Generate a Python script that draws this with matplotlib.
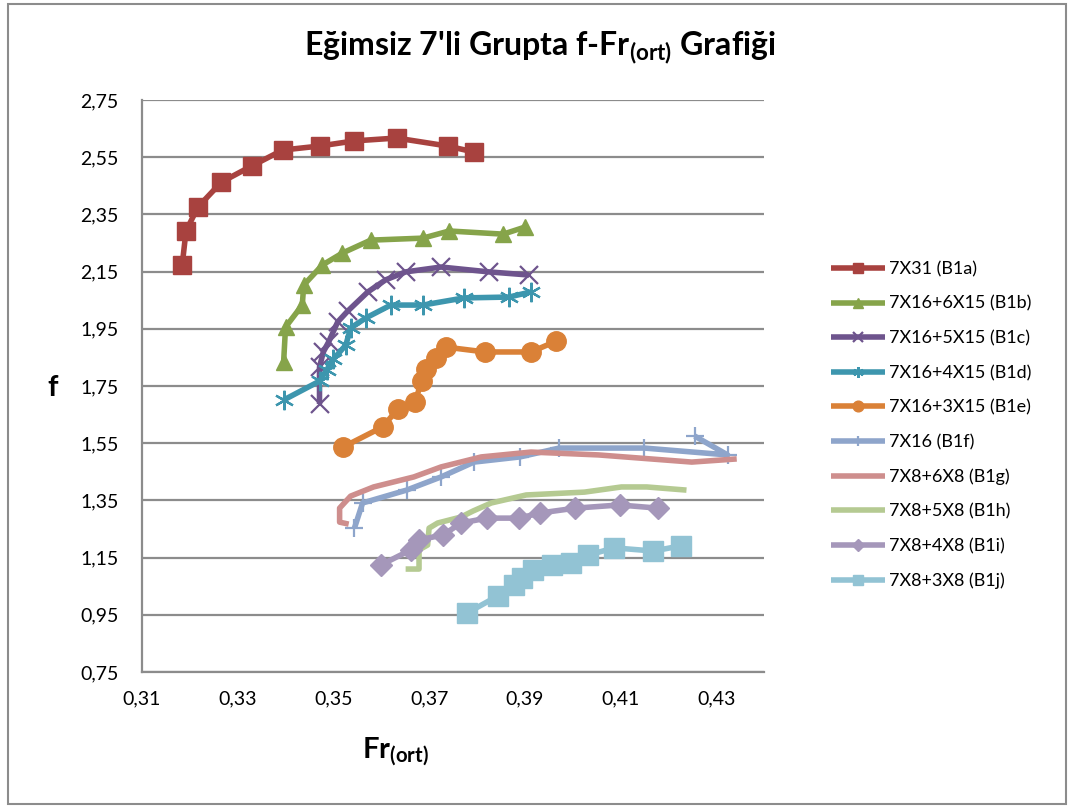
import matplotlib
matplotlib.use("Agg")
import matplotlib.pyplot as plt
from matplotlib.patches import Rectangle
from matplotlib.ticker import FixedLocator, FuncFormatter

plt.rcParams['font.family'] = ['Lato', 'DejaVu Sans']
plt.rcParams['mathtext.fontset'] = 'custom'
plt.rcParams['mathtext.bf'] = 'Lato:bold'

# ---------------- data ----------------
labels = ['7X31 (B1a)', '7X16+6X15 (B1b)', '7X16+5X15 (B1c)', '7X16+4X15 (B1d)',
          '7X16+3X15 (B1e)', '7X16 (B1f)', '7X8+6X8 (B1g)', '7X8+5X8 (B1h)',
          '7X8+4X8 (B1i)', '7X8+3X8 (B1j)']

b1a_x = [0.3184, 0.3192, 0.3217, 0.3266, 0.3329, 0.3394, 0.3471, 0.3544, 0.3632, 0.3739, 0.3794]
b1a_y = [2.173, 2.292, 2.376, 2.463, 2.519, 2.575, 2.589, 2.607, 2.617, 2.589, 2.568]

b1b_x = [0.3396, 0.3400, 0.3435, 0.3438, 0.3477, 0.3519, 0.3578, 0.3687, 0.3742, 0.3855, 0.3901]
b1b_y = [1.834, 1.956, 2.033, 2.103, 2.173, 2.215, 2.260, 2.267, 2.292, 2.281, 2.306]

b1c_x = [0.3471, 0.3471, 0.3479, 0.3490, 0.3509, 0.3530, 0.3572, 0.3609, 0.3651, 0.3725, 0.3825, 0.3909]
b1c_y = [1.687, 1.816, 1.869, 1.904, 1.974, 2.012, 2.079, 2.121, 2.149, 2.166, 2.149, 2.138]

b1d_x = [0.3396, 0.3471, 0.3486, 0.3500, 0.3526, 0.3536, 0.3568, 0.3620, 0.3687, 0.3773, 0.3867, 0.3913]
b1d_y = [1.701, 1.767, 1.806, 1.844, 1.893, 1.953, 1.988, 2.033, 2.033, 2.058, 2.061, 2.079]

b1e_x = [0.3521, 0.3603, 0.3635, 0.3670, 0.3685, 0.3693, 0.3714, 0.3735, 0.3817, 0.3913, 0.3966]
b1e_y = [1.537, 1.607, 1.670, 1.694, 1.767, 1.809, 1.848, 1.886, 1.869, 1.869, 1.907]

b1f_x = [0.3544, 0.3561, 0.3653, 0.3725, 0.3794, 0.3890, 0.3972, 0.4150, 0.4324, 0.4255]
b1f_y = [1.253, 1.341, 1.386, 1.432, 1.484, 1.502, 1.533, 1.533, 1.509, 1.575]

b1g_x = [0.3532, 0.3513, 0.3513, 0.3536, 0.3584, 0.3668, 0.3725, 0.3809, 0.3913, 0.4054, 0.4249, 0.4343]
b1g_y = [1.267, 1.274, 1.323, 1.365, 1.397, 1.432, 1.467, 1.502, 1.519, 1.509, 1.484, 1.495]

b1h_x = [0.3651, 0.3679, 0.3679, 0.3697, 0.3700, 0.3718, 0.3767, 0.3792, 0.3830, 0.3903, 0.4025, 0.4102, 0.4155, 0.4238]
b1h_y = [1.110, 1.110, 1.177, 1.194, 1.253, 1.271, 1.292, 1.313, 1.341, 1.369, 1.379, 1.397, 1.397, 1.386]

b1i_x = [0.3599, 0.3662, 0.3679, 0.3729, 0.3767, 0.3821, 0.3888, 0.3932, 0.4006, 0.4098, 0.4178]
b1i_y = [1.124, 1.177, 1.212, 1.229, 1.271, 1.288, 1.288, 1.306, 1.323, 1.334, 1.323]

b1j_x = [0.3779, 0.3844, 0.3878, 0.3895, 0.3918, 0.3957, 0.3997, 0.4033, 0.4087, 0.4169, 0.4226]
b1j_y = [0.956, 1.016, 1.054, 1.079, 1.107, 1.124, 1.131, 1.159, 1.184, 1.173, 1.191]

y_ticks = [0.75, 0.95, 1.15, 1.35, 1.55, 1.75, 1.95, 2.15, 2.35, 2.55, 2.75]
x_ticks = [0.31, 0.33, 0.35, 0.37, 0.39, 0.41, 0.43]

series = [(b1a_x, b1a_y), (b1b_x, b1b_y), (b1c_x, b1c_y), (b1d_x, b1d_y), (b1e_x, b1e_y),
          (b1f_x, b1f_y), (b1g_x, b1g_y), (b1h_x, b1h_y), (b1i_x, b1i_y), (b1j_x, b1j_y)]

# ---------------- styles ----------------
colors = ['#A8423F', '#86A44A', '#6E548D', '#3D96AE', '#DA8137',
          '#8EA5CB', '#CE8E8D', '#B5CA92', '#A597BA', '#92C3D4']
markers = ['s', '^', 'x', (6, 2, 0), 'o', '+', None, None, 'D', 's']
msizes = [13, 12, 13, 14, 14, 13, 0, 0, 11, 14]
line_marks = ('x', '+')

fig = plt.figure(figsize=(10.73, 8.07), dpi=100)
ax = fig.add_axes([142 / 1073, 1 - 672 / 807, (764 - 142) / 1073, (672 - 100) / 807])

for (xs, ys), lab, c, m, ms in zip(series, labels, colors, markers, msizes):
    kw = dict(color=c, lw=4.0, label=lab, solid_joinstyle='round', solid_capstyle='butt')
    if m is not None:
        kw.update(marker=m, markersize=ms, markeredgecolor=c, markerfacecolor=c)
        if m in line_marks or isinstance(m, tuple):
            kw.update(markeredgewidth=1.6)
    ax.plot(xs, ys, **kw)

ax.set_xlim(0.31, 0.44)
ax.set_ylim(0.75, 2.75)
ax.xaxis.set_major_locator(FixedLocator(x_ticks))
ax.yaxis.set_major_locator(FixedLocator(y_ticks))
comma = FuncFormatter(lambda v, p: ('%.2f' % v).replace('.', ','))
ax.xaxis.set_major_formatter(comma)
ax.yaxis.set_major_formatter(comma)
ax.tick_params(length=0, labelsize=14, colors='#000000')
ax.tick_params(axis='x', pad=13)
ax.tick_params(axis='y', pad=17)
ax.grid(axis='y', color='#8C8C8C', lw=1.6)
ax.set_axisbelow(True)
for s in ('top', 'right'):
    ax.spines[s].set_visible(False)
for s in ('left', 'bottom'):
    ax.spines[s].set_color('#8C8C8C')
    ax.spines[s].set_linewidth(1.6)

fig.text(53 / 1073, 1 - 388 / 807, 'f', fontsize=21, fontweight='bold', ha='center', va='center')
fig.text(395 / 1073, 1 - 752 / 807, r'Fr$_{\mathbf{(ort)}}$', fontsize=21, fontweight='bold',
         ha='center', va='center')
fig.text(540 / 1073, 1 - 48 / 807, r"Eğimsiz 7'li Grupta f-Fr$_{\mathbf{(ort)}}$ Grafiği",
         fontsize=23, fontweight='bold', ha='center', va='center')

leg = fig.legend(loc='upper left', bbox_to_anchor=(824 / 1073, 1 - 254 / 807), frameon=False,
                 fontsize=13, handlelength=3.0, handletextpad=0.2, labelspacing=1.02,
                 markerscale=0.55, borderaxespad=0)

fig.patches.append(Rectangle((8 / 1073, 3 / 807), 1058 / 1073, 800 / 807, transform=fig.transFigure,
                             fill=False, edgecolor='#8C8C8C', lw=1.5))

fig.savefig('out.png', dpi=100)
